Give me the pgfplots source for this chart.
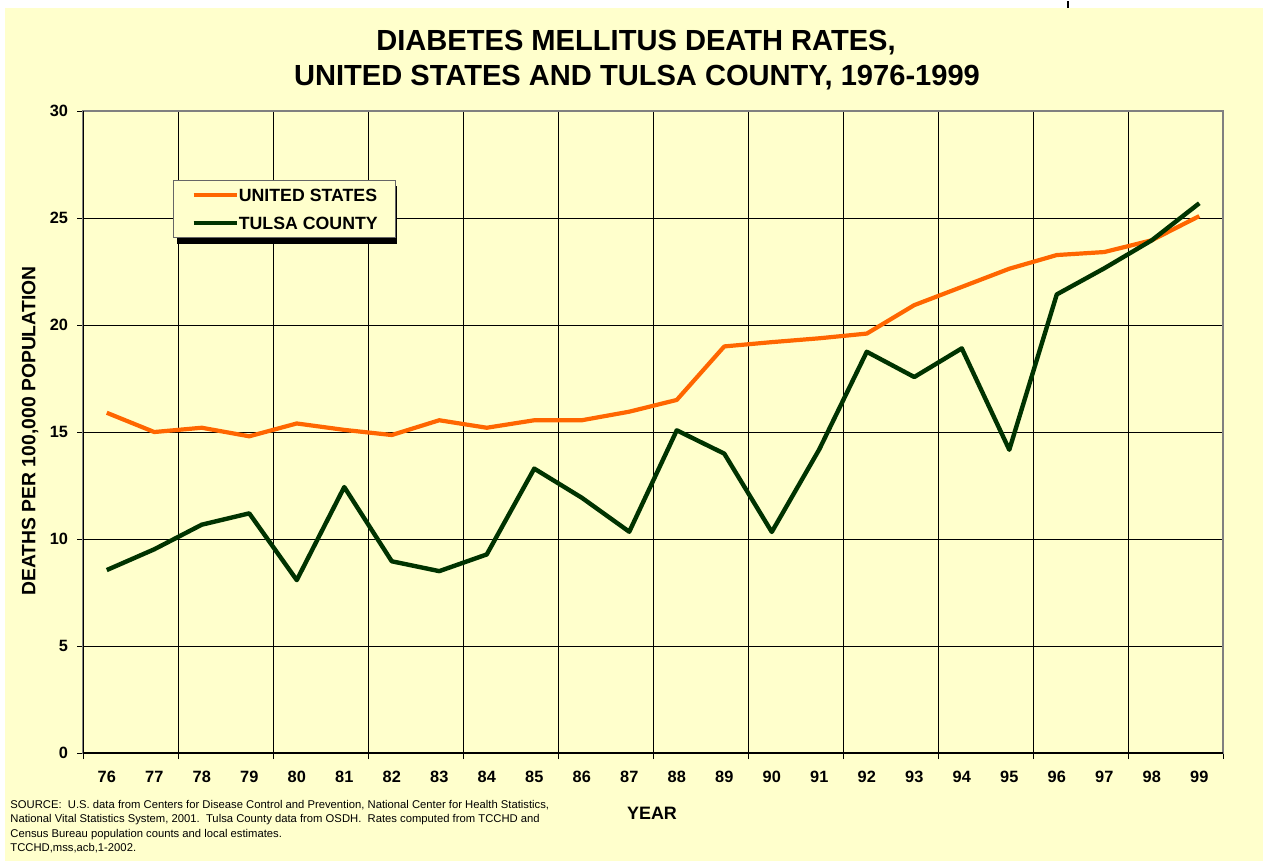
\documentclass[border=0pt]{standalone}
\usepackage{fontspec}
\setmainfont{Liberation Sans}
\usepackage{pgfplots}
\pgfplotsset{compat=1.18}

\definecolor{bgyel}{HTML}{FFFFCC}
\definecolor{usorange}{HTML}{FF6600}
\definecolor{tulsagreen}{HTML}{003300}

\begin{document}
\begin{tikzpicture}
% page, titles and notes in pixel units of the reference
\begin{scope}[x=0.5bp,y=-0.5bp]
  \fill[white] (0,0) rectangle (1263,860);
  \fill[bgyel] (5,7) rectangle (1263,860);
  \draw[black,line width=1bp] (1068,0) -- (1068,7);
  \node[font=\bfseries\fontsize{14.6}{17}\selectfont] at (636,42) {DIABETES MELLITUS DEATH RATES,};
  \node[font=\bfseries\fontsize{14.6}{17}\selectfont] at (637,77) {UNITED STATES AND TULSA COUNTY, 1976-1999};
  \node[rotate=90,font=\bfseries\fontsize{9.7}{12}\selectfont] at (30,430) {DEATHS PER 100,000 POPULATION};
  \node[font=\bfseries\fontsize{9}{11}\selectfont] at (652,812) {YEAR};
  \node[anchor=north west,align=left,inner sep=0pt,font=\fontsize{5.65}{7.2}\selectfont] at (10,799)
    {SOURCE:\ \ U.S. data from Centers for Disease Control and Prevention, National Center for Health Statistics,\\
     National Vital Statistics System, 2001.\ \ Tulsa County data from OSDH.\ \ Rates computed from TCCHD and\\
     Census Bureau population counts and local estimates.\\
     TCCHD,mss,acb,1-2002.};
  % legend shadow
  \fill[black] (177,185) rectangle (397,243);
\end{scope}

\begin{axis}[
  at={(41.5bp,-376bp)}, anchor=south west,
  scale only axis, width=570bp, height=321bp,
  xmin=75.5, xmax=99.5, ymin=0, ymax=30,
  xtick={75.5,77.5,...,99.5}, xticklabels={},
  extra x ticks={76,...,99},
  extra x tick style={grid=none, major tick length=0pt},
  ytick={0,5,...,30},
  tick pos=left,
  tick align=outside, major tick length=3bp,
  tick style={black, line width=0.5bp},
  xmajorgrids, ymajorgrids,
  grid style={black, line width=0.5bp},
  axis line style={draw=gray, line width=0.6bp},
  /pgf/number format/assume math mode=true,
  ticklabel style={font=\bfseries\fontsize{8.2}{10}\selectfont},
  xticklabel style={yshift=-5.5bp},
  yticklabel style={xshift=-1bp},
  legend style={at={(0.0789,0.8925)}, anchor=north west,
    fill=bgyel, draw=black!60, line width=0.5bp,
    font=\bfseries\fontsize{8.9}{10}\selectfont,
    inner xsep=9bp, inner ysep=4bp, row sep=7.5bp,
    nodes={inner sep=0pt, text height=6.5bp, text depth=0pt}},
  legend cell align=left,
  legend image code/.code={
    \path (-2bp,0bp) -- (19.5bp,0bp);
    \draw[#1,line width=2bp] (0bp,0bp) -- (17.5bp,0bp);},
  every axis plot/.append style={line join=round},
]
\addplot[color=usorange, line width=2.1bp] coordinates {
  (76,15.9)(77,15.0)(78,15.2)(79,14.8)(80,15.4)(81,15.1)(82,14.86)(83,15.55)
  (84,15.2)(85,15.55)(86,15.55)(87,15.95)(88,16.5)(89,19.0)(90,19.2)(91,19.38)
  (92,19.6)(93,20.93)(94,21.78)(95,22.63)(96,23.27)(97,23.41)(98,23.96)(99,25.09)};
\addplot[color=tulsagreen, line width=2.2bp] coordinates {
  (76,8.55)(77,9.52)(78,10.67)(79,11.2)(80,8.08)(81,12.43)(82,8.96)(83,8.5)
  (84,9.28)(85,13.29)(86,11.93)(87,10.34)(88,15.08)(89,13.99)(90,10.33)(91,14.19)
  (92,18.75)(93,17.57)(94,18.91)(95,14.17)(96,21.43)(97,22.65)(98,23.96)(99,25.69)};
\legend{UNITED STATES, TULSA COUNTY}
\draw[black, line width=0.7bp] (rel axis cs:0,1) -- (rel axis cs:0,0) -- (rel axis cs:1,0);
\end{axis}
\end{tikzpicture}
\end{document}
